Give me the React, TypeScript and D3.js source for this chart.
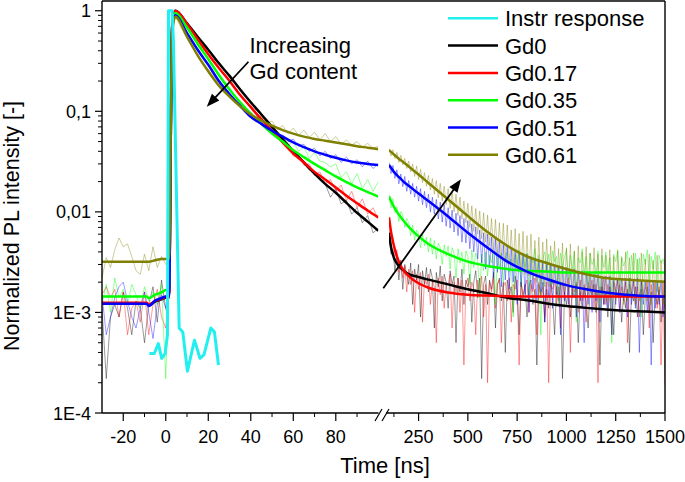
import React from 'react';
import * as d3 from 'd3';

const FONT = "'Liberation Sans', Arial, Helvetica, sans-serif";

const seriesNames = ['Gd0', 'Gd0.17', 'Gd0.35', 'Gd0.51', 'Gd0.61'];
const seriesColors = ['#000000', '#ff0000', '#00ff00', '#0000ff', '#808000'];
const instrName = 'Instr response';
const instrColor = '#22f0f0';

const yTickValues = [1e-4, 1e-3, 0.01, 0.1, 1];
const yTickLabels = ['1E-4', '1E-3', '0,01', '0,1', '1'];
const xLeftTicks = [-20, 0, 20, 40, 60, 80];
const xLeftMinor = [-10, 10, 30, 50, 70, 90];
const xRightTicks = [250, 500, 750, 1000, 1250, 1500];
const xRightMinor = [125, 375, 625, 875, 1125, 1375];

// Instrument response
const instrT = [-7.7, -5.4, -3.5, -1.9, -0.3, 0.8, 1.3, 3.0, 3.6, 6.3, 8, 10.2, 13.5, 16.1, 18, 21.2, 22.9, 24.8];
const instrV = [0.00039, 0.00039, 0.00049, 0.00035, 0.00039, 0.0006, 1.0, 1.0, 0.5, 0.0007, 0.00064, 0.00026, 0.00053, 0.00035, 0.00038, 0.0007, 0.00064, 0.0003];

// Left segment fits
const leftFitT = [-30, -9, -8, -5, -2, 0, 1.5, 3, 4.5, 10, 15, 20, 25, 30, 35, 40, 45, 50, 55, 60, 65, 70, 75, 80, 85, 90, 95, 100];
const fitL_Gd0 = [0.00123, 0.00123, 0.00118, 0.00128, 0.00135, 0.0014, 0.0014, 0.7, 1.0, 0.75, 0.55, 0.41, 0.30, 0.225, 0.165, 0.123, 0.093, 0.07, 0.053, 0.04, 0.031, 0.024, 0.019, 0.0155, 0.0123, 0.0098, 0.008, 0.0065];
const fitL_Gd017 = [0.00125, 0.00125, 0.0012, 0.0013, 0.00137, 0.00142, 0.00142, 0.7, 1.0, 0.74, 0.52, 0.37, 0.27, 0.2, 0.145, 0.11, 0.083, 0.064, 0.049, 0.038, 0.031, 0.025, 0.021, 0.0175, 0.0145, 0.0122, 0.0103, 0.0088];
const fitL_Gd035 = [0.00144, 0.00144, 0.00139, 0.0015, 0.00158, 0.00167, 0.00167, 0.65, 0.95, 0.68, 0.47, 0.33, 0.23, 0.165, 0.123, 0.095, 0.075, 0.06, 0.05, 0.041, 0.035, 0.03, 0.026, 0.0225, 0.0198, 0.0175, 0.0157, 0.0142];
const fitL_Gd051 = [0.00122, 0.00122, 0.00116, 0.00131, 0.00139, 0.00144, 0.00144, 0.65, 0.9, 0.6, 0.41, 0.29, 0.2, 0.148, 0.113, 0.088, 0.075, 0.064, 0.056, 0.049, 0.044, 0.04, 0.037, 0.0345, 0.0325, 0.031, 0.03, 0.0292];
const fitL_Gd061 = [0.0032, 0.0032, 0.0032, 0.0033, 0.0034, 0.0034, 0.0034, 0.6, 0.87, 0.55, 0.36, 0.25, 0.18, 0.14, 0.112, 0.093, 0.081, 0.072, 0.065, 0.06, 0.056, 0.053, 0.051, 0.049, 0.047, 0.045, 0.0435, 0.042];

// Left segment measured data
const leftDataT = [-30, -28, -26, -24, -22, -20, -18, -16, -14, -12, -10, -8, -6, -4, -2, 0,
  1, 2, 3, 4,
  5, 7.5, 10, 12.5, 15, 17.5, 20, 22.5, 25, 27.5, 30, 32.5, 35, 37.5, 40, 42.5, 45, 47.5, 50, 52.5,
  55, 57.5, 60, 62.5, 65, 67.5, 70, 72.5, 75, 77.5, 80, 82.5, 85, 87.5, 90, 92.5, 95, 97.5, 100];
const dataL_Gd0 = [0.0011, 0.00022, 0.0009, 0.0012, 0.0009, 0.0016, 0.0011, 0.0006, 0.0013, 0.0011, 0.0005, 0.0012, 0.0018, 0.0008, 0.0021, 0.0011,
  0.0009, 0.08, 0.7, 0.97,
  0.98, 0.86, 0.76, 0.64, 0.56, 0.47, 0.41, 0.35, 0.31, 0.26, 0.23, 0.19, 0.17, 0.145, 0.125, 0.108, 0.092, 0.08, 0.071, 0.06,
  0.055, 0.045, 0.041, 0.035, 0.03, 0.026, 0.025, 0.021, 0.019, 0.014, 0.017, 0.012, 0.013, 0.0095, 0.011, 0.0078, 0.0092, 0.0062, 0.0068];
const dataL_Gd017 = [0.0015, 0.0018, 0.0014, 0.0017, 0.0009, 0.0016, 0.0006, 0.0011, 0.0013, 0.0008, 0.0016, 0.0006, 0.0012, 0.0017, 0.0009, 0.0007,
  0.0012, 0.08, 0.7, 0.98,
  1.0, 0.86, 0.74, 0.62, 0.53, 0.44, 0.37, 0.32, 0.27, 0.235, 0.205, 0.17, 0.15, 0.125, 0.115, 0.094, 0.088, 0.072, 0.068, 0.054,
  0.052, 0.045, 0.036, 0.036, 0.029, 0.03, 0.023, 0.025, 0.019, 0.021, 0.016, 0.0185, 0.013, 0.016, 0.011, 0.0135, 0.0095, 0.011, 0.0085];
const dataL_Gd035 = [0.0012, 0.0019, 0.001, 0.0022, 0.0014, 0.0017, 0.0012, 0.0019, 0.0015, 0.0011, 0.0018, 0.0013, 0.0016, 0.0012, 0.0019, 0.00022,
  0.0011, 0.07, 0.65, 0.93,
  0.95, 0.8, 0.68, 0.57, 0.47, 0.4, 0.33, 0.28, 0.23, 0.2, 0.168, 0.14, 0.125, 0.105, 0.097, 0.083, 0.079, 0.066, 0.066, 0.055,
  0.057, 0.046, 0.05, 0.04, 0.044, 0.034, 0.039, 0.032, 0.031, 0.028, 0.03, 0.022, 0.025, 0.019, 0.024, 0.017, 0.021, 0.016, 0.02];
const dataL_Gd051 = [0.0015, 0.0006, 0.0009, 0.0014, 0.0018, 0.002, 0.0013, 0.0009, 0.0007, 0.0011, 0.0016, 0.001, 0.00055, 0.0012, 0.0015, 0.0011,
  0.0013, 0.07, 0.62, 0.9,
  0.87, 0.72, 0.6, 0.5, 0.41, 0.34, 0.29, 0.24, 0.2, 0.175, 0.15, 0.13, 0.115, 0.1, 0.088, 0.08, 0.077, 0.068, 0.067, 0.057,
  0.058, 0.05, 0.053, 0.045, 0.047, 0.04, 0.043, 0.036, 0.04, 0.034, 0.037, 0.031, 0.035, 0.03, 0.033, 0.028, 0.032, 0.027, 0.03];
const dataL_Gd061 = [0.0022, 0.0035, 0.0028, 0.0042, 0.0055, 0.0045, 0.0048, 0.0036, 0.0026, 0.0024, 0.0038, 0.0026, 0.0045, 0.0028, 0.0036, 0.003,
  0.0032, 0.06, 0.6, 0.87,
  0.84, 0.66, 0.55, 0.44, 0.37, 0.3, 0.26, 0.22, 0.19, 0.16, 0.145, 0.125, 0.118, 0.1, 0.098, 0.085, 0.09, 0.076, 0.08, 0.066,
  0.072, 0.06, 0.068, 0.058, 0.065, 0.055, 0.062, 0.052, 0.06, 0.05, 0.056, 0.047, 0.052, 0.046, 0.05, 0.044, 0.048, 0.043, 0.045];

// Right segment fits
const rightFitT = [100, 110, 125, 150, 175, 200, 250, 300, 400, 500, 600, 700, 800, 900, 1000, 1100, 1200, 1300, 1400, 1500];
const fitR_Gd0 = [0.0062, 0.0045, 0.0035, 0.0029, 0.0026, 0.0024, 0.00225, 0.00212, 0.0019, 0.0017, 0.00155, 0.0014, 0.00132, 0.00123, 0.00116, 0.00111, 0.00107, 0.00104, 0.00102, 0.001];
const fitR_Gd017 = [0.0088, 0.0064, 0.0046, 0.0032, 0.0026, 0.0023, 0.00195, 0.00176, 0.00158, 0.0015, 0.00147, 0.00145, 0.00144, 0.00144, 0.00144, 0.00144, 0.00144, 0.00144, 0.00144, 0.00144];
const fitR_Gd035 = [0.0142, 0.0128, 0.0112, 0.0094, 0.0081, 0.0071, 0.0057, 0.0048, 0.0038, 0.0032, 0.0029, 0.0027, 0.0026, 0.00255, 0.0025, 0.00249, 0.00249, 0.00249, 0.00249, 0.00249];
const fitR_Gd051 = [0.0292, 0.0275, 0.025, 0.0222, 0.0199, 0.0182, 0.0152, 0.0128, 0.009, 0.0062, 0.0044, 0.0032, 0.00255, 0.00215, 0.00187, 0.0017, 0.00158, 0.0015, 0.00146, 0.00144];
const fitR_Gd061 = [0.041, 0.0395, 0.0372, 0.0338, 0.031, 0.0283, 0.0235, 0.0194, 0.0133, 0.0091, 0.0063, 0.0046, 0.0036, 0.0031, 0.0027, 0.0024, 0.0022, 0.00212, 0.00206, 0.00202];

// Right segment measured data (every 10 ns, 100..1500)
const rightDataT = d3.range(100, 1501, 10);
const dataR_Gd0 = [
  0.0066, 0.0038, 0.0042, 0.0026, 0.0036, 0.0021, 0.0033, 0.0017, 0.0030, 0.0024,
  0.0019, 0.0031, 0.0012, 0.0027, 0.0021, 0.0030, 0.0009, 0.0026, 0.0019, 0.0028,
  0.0016, 0.0027, 0.0022, 0.0007, 0.0025, 0.0018, 0.0029, 0.0013, 0.0024, 0.0020,
  0.0011, 0.0026, 0.0019, 0.0023, 0.0005, 0.0022, 0.0016, 0.0027, 0.0012, 0.0021,
  0.0018, 0.0024, 0.0008, 0.0020, 0.0026, 0.0014, 0.0022, 0.00022, 0.0019, 0.0023,
  0.0012, 0.0021, 0.0017, 0.0025, 0.0007, 0.0019, 0.0022, 0.0013, 0.0020, 0.0004,
  0.0021, 0.0015, 0.0018, 0.0010, 0.0023, 0.0016, 0.0006, 0.0020, 0.0014, 0.0019,
  0.0009, 0.0018, 0.0021, 0.0012, 0.0017, 0.0003, 0.0019, 0.0015, 0.0020, 0.0008,
  0.0017, 0.0011, 0.0020, 0.0014, 0.0006, 0.0018, 0.0013, 0.0019, 0.00022, 0.0016,
  0.0012, 0.0018, 0.0009, 0.0017, 0.0014, 0.0019, 0.0005, 0.0016, 0.0011, 0.0018,
  0.0013, 0.0007, 0.0017, 0.0015, 0.0019, 0.0010, 0.0016, 0.0003, 0.0018, 0.0012,
  0.0016, 0.0009, 0.0018, 0.0013, 0.0006, 0.0017, 0.0014, 0.0019, 0.0008, 0.0015,
  0.0011, 0.0017, 0.0004, 0.0016, 0.0013, 0.0018, 0.0009, 0.0015, 0.0017, 0.0006,
  0.0014, 0.0018, 0.0010, 0.0016, 0.0005, 0.0015, 0.0012, 0.0017, 0.0008, 0.0014,
  0.0011];
const dataR_Gd017 = [
  0.0090, 0.0058, 0.0056, 0.0036, 0.0042, 0.0025, 0.0033, 0.0022, 0.0029, 0.0016,
  0.0027, 0.0019, 0.0026, 0.0010, 0.0024, 0.0017, 0.0025, 0.0008, 0.0022, 0.0019,
  0.0024, 0.0012, 0.0021, 0.0018, 0.0005, 0.0022, 0.0015, 0.0023, 0.0011, 0.0020,
  0.0019, 0.0024, 0.0007, 0.0020, 0.0016, 0.0022, 0.0010, 0.0021, 0.0003, 0.0019,
  0.0022, 0.0013, 0.0020, 0.0017, 0.0006, 0.0021, 0.0015, 0.0023, 0.0009, 0.0019,
  0.0002, 0.0020, 0.0016, 0.0022, 0.0011, 0.0019, 0.0021, 0.0005, 0.0018, 0.0020,
  0.0013, 0.0022, 0.0008, 0.0019, 0.0017, 0.0021, 0.0003, 0.0020, 0.0015, 0.0018,
  0.0021, 0.0010, 0.0019, 0.0016, 0.0022, 0.0006, 0.0020, 0.0014, 0.0018, 0.0009,
  0.0020, 0.0002, 0.0019, 0.0017, 0.0021, 0.0012, 0.0018, 0.0007, 0.0020, 0.0015,
  0.0019, 0.0022, 0.0004, 0.0018, 0.0016, 0.0020, 0.0010, 0.0021, 0.0013, 0.0019,
  0.0008, 0.0020, 0.0017, 0.0021, 0.0011, 0.0019, 0.0002, 0.0018, 0.0016, 0.0022,
  0.0012, 0.0019, 0.0015, 0.0006, 0.0020, 0.0017, 0.0021, 0.0010, 0.0018, 0.0014,
  0.0020, 0.0005, 0.0019, 0.0016, 0.0021, 0.0012, 0.0018, 0.0009, 0.0020, 0.0015,
  0.0017, 0.0021, 0.0007, 0.0019, 0.0014, 0.0020, 0.0011, 0.0018, 0.0003, 0.0020,
  0.00019];
const dataR_Gd035 = [
  0.0150, 0.0110, 0.0135, 0.0098, 0.0112, 0.0080, 0.0101, 0.0092, 0.0070, 0.0086,
  0.0078, 0.0058, 0.0074, 0.0052, 0.0066, 0.0061, 0.0044, 0.0060, 0.0046, 0.0056,
  0.0040, 0.0055, 0.0038, 0.0052, 0.0034, 0.0049, 0.0044, 0.0030, 0.0047, 0.0036,
  0.0046, 0.0027, 0.0044, 0.0039, 0.0022, 0.0043, 0.0031, 0.0040, 0.0024, 0.0041,
  0.0036, 0.0019, 0.0042, 0.0028, 0.0039, 0.0033, 0.0014, 0.0038, 0.0026, 0.0040,
  0.0023, 0.0037, 0.0031, 0.0041, 0.0012, 0.0036, 0.0027, 0.0039, 0.0020, 0.0035,
  0.0040, 0.0025, 0.0034, 0.0009, 0.0038, 0.0030, 0.0042, 0.0018, 0.0036, 0.0028,
  0.0039, 0.0015, 0.0035, 0.0031, 0.0043, 0.0022, 0.0037, 0.0006, 0.0034, 0.0040,
  0.0026, 0.0038, 0.0019, 0.0041, 0.0032, 0.0036, 0.0012, 0.0039, 0.0029, 0.0035,
  0.0042, 0.0021, 0.0037, 0.0027, 0.0040, 0.0008, 0.0035, 0.0031, 0.0043, 0.0024,
  0.0036, 0.0017, 0.0039, 0.0030, 0.0034, 0.0022, 0.0041, 0.0011, 0.0037, 0.0028,
  0.0040, 0.0025, 0.0035, 0.0005, 0.0038, 0.0032, 0.0042, 0.0019, 0.0036, 0.0029,
  0.0033, 0.0041, 0.0014, 0.0037, 0.0026, 0.0039, 0.0022, 0.0035, 0.0009, 0.0038,
  0.0030, 0.0042, 0.0020, 0.0036, 0.0027, 0.0040, 0.0016, 0.0037, 0.0031, 0.0034,
  0.0028];
const dataR_Gd051 = [
  0.0310, 0.0240, 0.0290, 0.0215, 0.0262, 0.0190, 0.0238, 0.0178, 0.0225, 0.0160,
  0.0205, 0.0150, 0.0192, 0.0140, 0.0180, 0.0128, 0.0170, 0.0118, 0.0160, 0.0110,
  0.0150, 0.0100, 0.0140, 0.0095, 0.0133, 0.0085, 0.0125, 0.0079, 0.0118, 0.0072,
  0.0110, 0.0069, 0.0104, 0.0063, 0.0097, 0.0058, 0.0092, 0.0050, 0.0086, 0.0049,
  0.0082, 0.0043, 0.0076, 0.0040, 0.0071, 0.0034, 0.0066, 0.0031, 0.0062, 0.0027,
  0.0060, 0.0028, 0.0056, 0.0022, 0.0054, 0.0025, 0.0050, 0.0018, 0.0047, 0.0021,
  0.0046, 0.0017, 0.0044, 0.0020, 0.0042, 0.0012, 0.0040, 0.0018, 0.0039, 0.0015,
  0.0038, 0.0010, 0.0036, 0.0017, 0.0035, 0.0013, 0.0034, 0.0016, 0.0032, 0.0008,
  0.0032, 0.0014, 0.0031, 0.0011, 0.0030, 0.0015, 0.0029, 0.0006, 0.0029, 0.0013,
  0.0028, 0.0012, 0.0027, 0.0014, 0.0027, 0.0009, 0.0026, 0.0013, 0.0026, 0.0005,
  0.0025, 0.0012, 0.0025, 0.0010, 0.0024, 0.0013, 0.0024, 0.0008, 0.0023, 0.0012,
  0.0023, 0.0011, 0.0023, 0.0006, 0.0022, 0.0012, 0.0022, 0.0010, 0.0022, 0.0013,
  0.0022, 0.0009, 0.0022, 0.0012, 0.0021, 0.0011, 0.0022, 0.0004, 0.0021, 0.0012,
  0.0021, 0.0010, 0.0021, 0.0003, 0.0021, 0.0011, 0.0020, 0.0012, 0.0021, 0.0009,
  0.0021];
const dataR_Gd061 = [
  0.0430, 0.0360, 0.0415, 0.0340, 0.0390, 0.0310, 0.0365, 0.0295, 0.0340, 0.0270,
  0.0320, 0.0250, 0.0300, 0.0225, 0.0285, 0.0210, 0.0265, 0.0195, 0.0245, 0.0180,
  0.0230, 0.0165, 0.0215, 0.0150, 0.0205, 0.0138, 0.0192, 0.0128, 0.0180, 0.0118,
  0.0170, 0.0108, 0.0160, 0.0100, 0.0150, 0.0092, 0.0140, 0.0085, 0.0128, 0.0078,
  0.0122, 0.0070, 0.0115, 0.0064, 0.0108, 0.0060, 0.0102, 0.0054, 0.0098, 0.0050,
  0.0093, 0.0046, 0.0086, 0.0042, 0.0084, 0.0039, 0.0078, 0.0036, 0.0077, 0.0034,
  0.0074, 0.0031, 0.0066, 0.0029, 0.0068, 0.0027, 0.0061, 0.0025, 0.0064, 0.0024,
  0.0058, 0.0023, 0.0060, 0.0021, 0.0052, 0.0020, 0.0056, 0.0019, 0.0050, 0.0018,
  0.0054, 0.0018, 0.0046, 0.0019, 0.0051, 0.0016, 0.0043, 0.0018, 0.0049, 0.0016,
  0.0044, 0.0017, 0.0048, 0.0015, 0.0041, 0.0016, 0.0046, 0.0015, 0.0040, 0.0014,
  0.0045, 0.0015, 0.0039, 0.0014, 0.0044, 0.0015, 0.0038, 0.0013, 0.0043, 0.0014,
  0.0037, 0.0013, 0.0042, 0.0014, 0.0036, 0.0013, 0.0041, 0.0014, 0.0035, 0.0012,
  0.0040, 0.0013, 0.0035, 0.0014, 0.0039, 0.0012, 0.0034, 0.0013, 0.0039, 0.0014,
  0.0034, 0.0013, 0.0038, 0.0012, 0.0033, 0.0014, 0.0037, 0.0013, 0.0033, 0.0012,
  0.0036];

const fitsLeft = [fitL_Gd0, fitL_Gd017, fitL_Gd035, fitL_Gd051, fitL_Gd061];
const dataLeft = [dataL_Gd0, dataL_Gd017, dataL_Gd035, dataL_Gd051, dataL_Gd061];
const fitsRight = [fitR_Gd0, fitR_Gd017, fitR_Gd035, fitR_Gd051, fitR_Gd061];
const dataRight = [dataR_Gd0, dataR_Gd017, dataR_Gd035, dataR_Gd051, dataR_Gd061];

export default function App() {
  const W = 685, H = 482;
  const left = 102, right = 665, top = 1, bottom = 413;
  const segLEnd = 378.3, segRStart = 389;

  const xL = d3.scaleLinear().domain([-30, 100]).range([left, segLEnd]);
  const xR = d3.scaleLinear().domain([100, 1500]).range([segRStart, right]);
  const y = d3.scaleLog().domain([1e-4, 1.25]).range([bottom, top]);

  const mk = (xs: any, ts: number[], curve: any) =>
    (vs: number[]) => d3.line<number>().x((_, i) => xs(ts[i])).y((v) => y(v)).curve(curve)(vs) || '';

  const fitLPath = mk(xL, leftFitT, d3.curveMonotoneX);
  const fitRPath = mk(xR, rightFitT, d3.curveMonotoneX);
  const dataLPath = mk(xL, leftDataT, d3.curveLinear);
  const dataRPath = mk(xR, rightDataT, d3.curveLinear);
  const instrPath = mk(xL, instrT, d3.curveLinear)(instrV);

  const yMinor: number[] = [];
  for (let e = -4; e < 0; e++) for (let k = 2; k <= 9; k++) yMinor.push(k * Math.pow(10, e));

  // annotation arrows (data coordinates)
  const a1 = { x1: xL(38.9), y1: y(0.311), x2: xL(19.3), y2: y(0.111) };
  const a2 = { x1: xR(71), y1: y(0.00174), x2: xR(465), y2: y(0.0211) };
  const arrowHead = (a: any) => {
    const ang = Math.atan2(a.y2 - a.y1, a.x2 - a.x1);
    const L = 13, Wd = 5;
    const bx = a.x2 - L * Math.cos(ang), by = a.y2 - L * Math.sin(ang);
    const px = -Math.sin(ang) * Wd, py = Math.cos(ang) * Wd;
    return `M${a.x2},${a.y2}L${bx + px},${by + py}L${bx - px},${by - py}Z`;
  };
  const shaft = (a: any) => {
    const ang = Math.atan2(a.y2 - a.y1, a.x2 - a.x1);
    return { x1: a.x1, y1: a.y1, x2: a.x2 - 10 * Math.cos(ang), y2: a.y2 - 10 * Math.sin(ang) };
  };
  const s1 = shaft(a1), s2 = shaft(a2);

  const legendItems = [instrName, ...seriesNames];
  const legendColors = [instrColor, ...seriesColors];

  return (
    <svg width={W} height={H} style={{ position: 'absolute', left: 0, top: 0, background: '#fff' }} fontFamily={FONT}>
      <defs>
        <clipPath id="clipL"><rect x={left} y={top} width={segLEnd - left} height={bottom - top} /></clipPath>
        <clipPath id="clipR"><rect x={segRStart} y={top} width={right - segRStart} height={bottom - top} /></clipPath>
      </defs>

      {/* measured data */}
      <g clipPath="url(#clipL)" fill="none">
        {dataLeft.map((vs, i) => (
          <path key={'dl' + i} d={dataLPath(vs)} stroke={seriesColors[i]} strokeOpacity={0.4} strokeWidth={1} />
        ))}
      </g>
      <g clipPath="url(#clipR)" fill="none">
        {dataRight.map((vs, i) => (
          <path key={'dr' + i} d={dataRPath(vs)} stroke={seriesColors[i]} strokeOpacity={0.45} strokeWidth={0.9} />
        ))}
      </g>

      {/* fits */}
      <g clipPath="url(#clipL)" fill="none">
        {fitsLeft.map((vs, i) => (
          <path key={'fl' + i} d={fitLPath(vs)} stroke={seriesColors[i]} strokeWidth={2.5} />
        ))}
        <path d={instrPath} stroke={instrColor} strokeWidth={3} strokeLinejoin="round" />
      </g>
      <g clipPath="url(#clipR)" fill="none">
        {fitsRight.map((vs, i) => (
          <path key={'fr' + i} d={fitRPath(vs)} stroke={seriesColors[i]} strokeWidth={2.5} />
        ))}
      </g>

      {/* frame */}
      <line x1={left} y1={top} x2={right} y2={top} stroke="#000" strokeWidth={1.4} />
      <line x1={right} y1={top} x2={right} y2={bottom} stroke="#000" strokeWidth={1.4} />
      <line x1={left} y1={top} x2={left} y2={bottom} stroke="#000" strokeWidth={1.4} />
      <line x1={left} y1={bottom} x2={378.5} y2={bottom} stroke="#000" strokeWidth={1.4} />
      <line x1={386} y1={bottom} x2={right} y2={bottom} stroke="#000" strokeWidth={1.4} />
      <line x1={375} y1={421} x2={382} y2={409} stroke="#000" strokeWidth={1.2} />
      <line x1={382} y1={421} x2={389} y2={409} stroke="#000" strokeWidth={1.2} />

      {/* y ticks */}
      {yTickValues.map((v, i) => (
        <g key={'yt' + i}>
          <line x1={left - 7} x2={left} y1={y(v)} y2={y(v)} stroke="#000" strokeWidth={1.2} />
          <text x={91} y={y(v) + 6.5} textAnchor="end" fontSize={18}>{yTickLabels[i]}</text>
        </g>
      ))}
      {yMinor.map((v, i) => (
        <line key={'ym' + i} x1={left - 4} x2={left} y1={y(v)} y2={y(v)} stroke="#000" strokeWidth={1} />
      ))}

      {/* x ticks */}
      {xLeftTicks.map((t) => (
        <g key={'xl' + t}>
          <line x1={xL(t)} x2={xL(t)} y1={bottom} y2={bottom + 8} stroke="#000" strokeWidth={1.2} />
          <text x={xL(t)} y={443} textAnchor="middle" fontSize={18}>{t}</text>
        </g>
      ))}
      {xLeftMinor.map((t) => (
        <line key={'xlm' + t} x1={xL(t)} x2={xL(t)} y1={bottom} y2={bottom + 4} stroke="#000" strokeWidth={1} />
      ))}
      {xRightTicks.map((t) => (
        <g key={'xr' + t}>
          <line x1={xR(t)} x2={xR(t)} y1={bottom} y2={bottom + 8} stroke="#000" strokeWidth={1.2} />
          <text x={xR(t)} y={443} textAnchor="middle" fontSize={18}>{t}</text>
        </g>
      ))}
      {xRightMinor.map((t) => (
        <line key={'xrm' + t} x1={xR(t)} x2={xR(t)} y1={bottom} y2={bottom + 4} stroke="#000" strokeWidth={1} />
      ))}

      {/* axis titles */}
      <text x={385} y={473} textAnchor="middle" fontSize={22}>Time [ns]</text>
      <text transform="translate(19,226) rotate(-90)" textAnchor="middle" fontSize={21.5}>Normalized PL intensity [-]</text>

      {/* annotations */}
      <text x={249.5} y={53} fontSize={22}>Increasing</text>
      <text x={249.5} y={78.5} fontSize={22}>Gd content</text>
      <line {...s1} stroke="#000" strokeWidth={1.8} />
      <path d={arrowHead(a1)} fill="#000" />
      <line {...s2} stroke="#000" strokeWidth={1.8} />
      <path d={arrowHead(a2)} fill="#000" />

      {/* legend */}
      {legendItems.map((name, i) => {
        const ly = 18.3 + 27.3 * i;
        return (
          <g key={'lg' + i}>
            <line x1={448} x2={498} y1={ly} y2={ly} stroke={legendColors[i]} strokeWidth={2.5} />
            <text x={505} y={ly + 8} fontSize={22}>{name}</text>
          </g>
        );
      })}
    </svg>
  );
}
